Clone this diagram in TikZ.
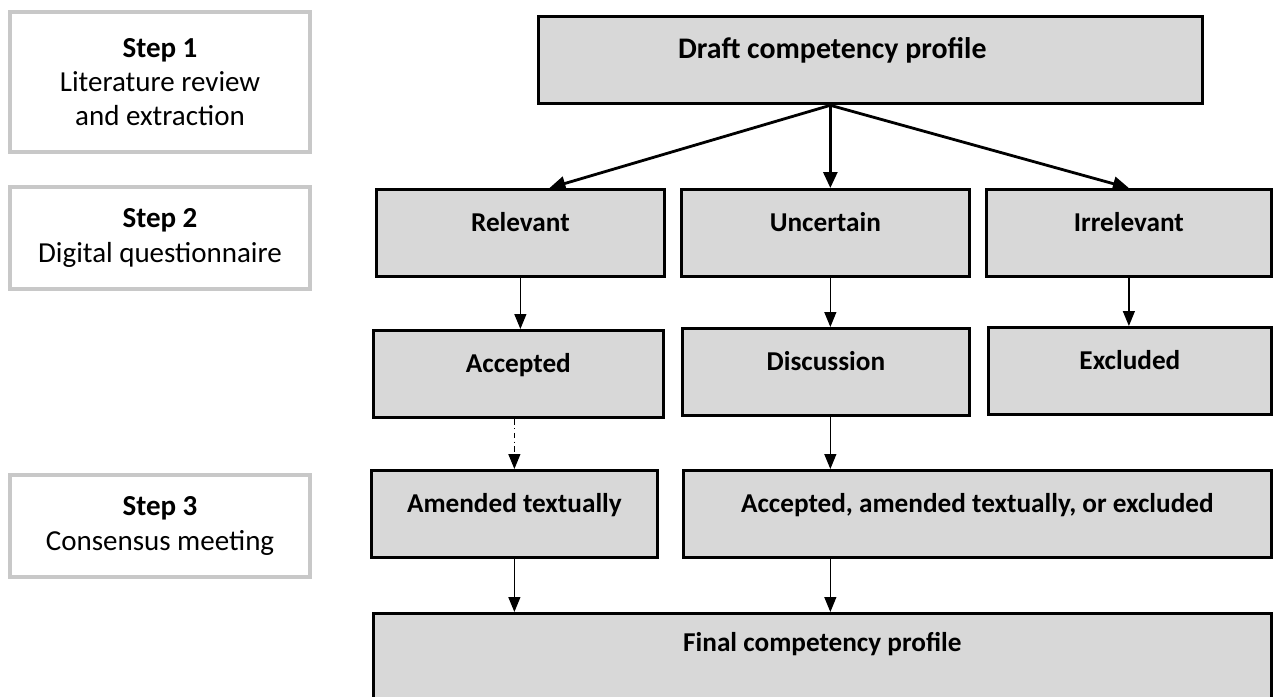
\documentclass[tikz,border=0pt]{standalone}
\usepackage{fontspec}
\setmainfont{Carlito}
\usetikzlibrary{arrows.meta,calc}
\definecolor{boxfill}{RGB}{216,216,216}
\definecolor{stepline}{RGB}{200,200,200}

\begin{document}
\begin{tikzpicture}[x=0.02cm, y=-0.02cm,
    stage/.style={draw, line width=1.6pt, fill=boxfill, anchor=north west,
        inner xsep=0pt, inner ysep=0pt, text height=0.85cm, text depth=0.9cm,
        font=\fontsize{15.5}{18}\selectfont\bfseries},
    stepbox/.style={draw=stepline, line width=1.8pt, fill=white, minimum width=6cm,
        align=center, font=\fontsize{16.5}{19.5}\selectfont},
    flow/.style={-{Triangle[length=0.3cm,width=0.24cm]}, line width=0.7pt},
    split/.style={-{Triangle[length=0.32cm,width=0.28cm]}, line width=1.6pt}]
    \clip (0,0) rectangle (1273,696);

    % Steps
    \node[stepbox, minimum height=2.8cm] (step1) at (160,82) {\textbf{Step 1}\\Literature review\\and extraction};
    \node[stepbox, minimum height=2.04cm] (step2) at (160,238) {\textbf{Step 2}\\Digital questionnaire};
    \node[stepbox, minimum height=2.04cm] (step3) at (160,526) {\textbf{Step 3}\\Consensus meeting};

    % Boxes
    \node[stage, minimum width=13.28cm, font=\fontsize{17}{20}\selectfont\bfseries] (draft) at (537,15) {\hspace*{-1.52cm}Draft competency profile};
    \node[stage, minimum width=5.76cm] (relevant) at (375,188) {Relevant};
    \node[stage, minimum width=5.76cm] (uncertain) at (680,188) {Uncertain};
    \node[stage, minimum width=5.7cm] (irrelevant) at (985,188) {Irrelevant};
    \node[stage, minimum width=5.8cm] (accepted) at (372,329) {Accepted};
    \node[stage, minimum width=5.74cm] (discussion) at (681,327) {Discussion};
    \node[stage, minimum width=5.66cm] (excluded) at (987,326) {Excluded};
    \node[stage, minimum width=5.72cm] (amended) at (370,469) {Amended textually};
    \node[stage, minimum width=11.76cm] (decide) at (682,469) {Accepted, amended textually, or excluded};
    \node[stage, minimum width=17.96cm, text height=0.77cm, text depth=2cm] (final) at (372,612) {Final competency profile};

    % Split of the draft
    \coordinate (fork) at ($(draft.south west)!0.44!(draft.south east)$);
    \draw[split] (fork) -- ($(relevant.north west)!0.6!(relevant.north east)$);
    \draw[split] (fork) -- (fork |- uncertain.north);
    \draw[split] (fork) -- (irrelevant.north);

    % Questionnaire outcome
    \draw[flow] (relevant.south) -- (relevant.south |- accepted.north);
    \draw[flow] (fork |- uncertain.south) -- (fork |- discussion.north);
    \draw[flow] (irrelevant.south) -- (irrelevant.south |- excluded.north);

    % Consensus meeting
    \draw[flow, dash dot] (amended.north |- accepted.south) -- (amended.north);
    \draw[flow] (fork |- discussion.south) -- (fork |- decide.north);
    \draw[flow] (amended.south) -- (amended.south |- final.north);
    \draw[flow] (fork |- decide.south) -- (fork |- final.north);
\end{tikzpicture}
\end{document}
